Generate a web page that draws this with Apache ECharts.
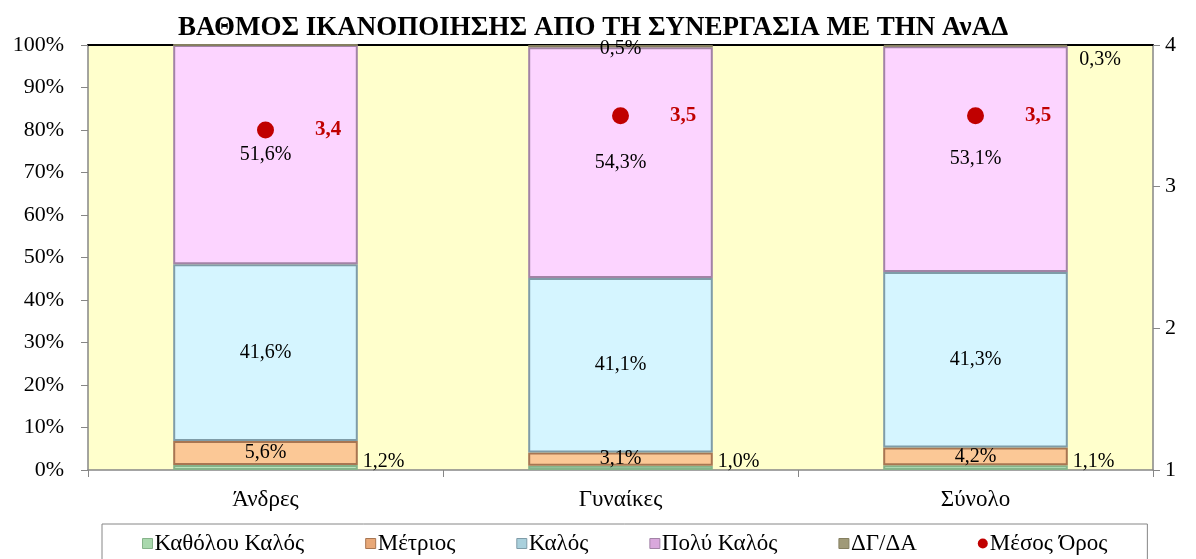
<!DOCTYPE html>
<html>
<head>
<meta charset="utf-8">
<script src="https://cdn.jsdelivr.net/npm/echarts@6/dist/echarts.min.js"></script>
<style>html,body{margin:0;padding:0;background:#fff;}#c{width:1196px;height:559px;}</style>
</head>
<body>
<div id="c"></div>
<script>
const categories = ['Άνδρες', 'Γυναίκες', 'Σύνολο'];
const seriesNames = ['Καθόλου Καλός', 'Μέτριος', 'Καλός', 'Πολύ Καλός', 'ΔΓ/ΔΑ'];
const katholou = [1.2, 1.0, 1.1];
const metrios = [5.6, 3.1, 4.2];
const kalos = [41.6, 41.1, 41.3];
const polyKalos = [51.6, 54.3, 53.1];
const dgda = [0.0, 0.5, 0.3];
const mesosOros = [3.4, 3.5, 3.5];
const leftTicks = [0, 10, 20, 30, 40, 50, 60, 70, 80, 90, 100];
const rightTicks = [1, 2, 3, 4];

const FONT = '"Liberation Serif", "Times New Roman", serif';
const fmt = v => v.toFixed(1).replace('.', ',') + '%';

const colors = [
  {c: '#b9e5bc', b: '#86b38a', legend: '#a9d8ad'},
  {c: '#fbc896', b: '#a87652', legend: '#e8a878'},
  {c: '#d5f5ff', b: '#7f9ca8', legend: '#a9d0dc'},
  {c: '#fcd4ff', b: '#a283a6', legend: '#d9a8dc'},
  {c: '#c9c29c', b: '#857f60', legend: '#a09a78'}
];
const dataSets = [katholou, metrios, kalos, polyKalos, dgda];

const series = seriesNames.map((name, i) => {
  const s = {
    name, type: 'bar', stack: 'total', barWidth: '52%',
    itemStyle: {color: colors[i].c, borderColor: colors[i].b, borderWidth: 2},
    label: {
      show: true, color: '#000', fontFamily: FONT, fontSize: 20,
      formatter: p => p.value > 0 ? fmt(p.value) : ''
    },
    data: dataSets[i].slice()
  };
  if (i === 0) {
    s.label.position = 'right';
    s.label.offset = [0, -6];
  } else if (i === 4) {
    s.data = dataSets[i].map((v, k) => k === 2 ? {value: v, label: {position: 'right', offset: [6, 14]}} : {value: v, label: {position: 'inside', offset: [0, 3]}});
  } else {
    s.label.position = 'inside';
  }
  return s;
});
series.push({
  name: 'Μέσος Όρος', type: 'scatter', yAxisIndex: 1, symbol: 'circle', symbolSize: 17,
  itemStyle: {color: '#c00000', opacity: 1},
  label: {show: true, position: 'right', distance: 41, color: '#c00000', fontWeight: 'bold', fontFamily: FONT, fontSize: 21,
    formatter: p => p.value.toFixed(1).replace('.', ',')},
  data: mesosOros
});

const chart = echarts.init(document.getElementById('c'), null, {renderer: 'canvas'});
chart.setOption({
  animation: false,
  backgroundColor: '#fff',
  title: {
    text: 'ΒΑΘΜΟΣ ΙΚΑΝΟΠΟΙΗΣΗΣ ΑΠΟ ΤΗ ΣΥΝΕΡΓΑΣΙΑ ΜΕ ΤΗΝ ΑνΑΔ',
    left: 173, top: 10,
    textStyle: {fontFamily: FONT, fontSize: 27, fontWeight: 'bold', color: '#000'}
  },
  legend: {
    bottom: -24, left: 102,
    padding: [8, 40, 28, 40],
    borderColor: '#868686', borderWidth: 1,
    itemGap: 61, itemWidth: 10, itemHeight: 10,
    textStyle: {fontFamily: FONT, fontSize: 23, color: '#000', padding: [0, 0, 0, -3]},
    data: seriesNames.map((n, i) => ({name: n, icon: 'rect', itemStyle: {color: colors[i].legend, borderColor: colors[i].b, borderWidth: 1}})).concat([{name: 'Μέσος Όρος', icon: 'circle', itemStyle: {color: '#c00000'}}])
  },
  grid: {left: 88, right: 43, top: 45, bottom: 89, show: true, backgroundColor: '#ffffcc', borderWidth: 0},
  xAxis: [{
    type: 'category', data: categories,
    axisLine: {lineStyle: {color: '#868686', width: 1.5}},
    axisTick: {show: true, length: 7, lineStyle: {color: '#868686'}},
    axisLabel: {fontFamily: FONT, fontSize: 23, color: '#000', margin: 18}
  }, {
    type: 'category', data: categories, position: 'top',
    axisLine: {show: true, lineStyle: {color: '#000', width: 2}},
    axisTick: {show: false}, axisLabel: {show: false}
  }],
  yAxis: [{
    type: 'value', min: 0, max: 100, interval: 10,
    axisLine: {show: true, lineStyle: {color: '#868686', width: 1.5}},
    axisTick: {show: true, length: 7, lineStyle: {color: '#868686'}},
    splitLine: {show: false},
    axisLabel: {fontFamily: FONT, fontSize: 22, color: '#000', margin: 24,
      formatter: v => leftTicks.indexOf(v) >= 0 ? v + '%' : ''}
  }, {
    type: 'value', min: 1, max: 4, interval: 1, position: 'right',
    axisLine: {show: true, lineStyle: {color: '#868686', width: 1.5}},
    axisTick: {show: true, length: 7, lineStyle: {color: '#868686'}},
    splitLine: {show: false},
    axisLabel: {fontFamily: FONT, fontSize: 22, color: '#000', margin: 12,
      formatter: v => rightTicks.indexOf(v) >= 0 ? String(v) : ''}
  }],
  series
});
</script>
</body>
</html>
